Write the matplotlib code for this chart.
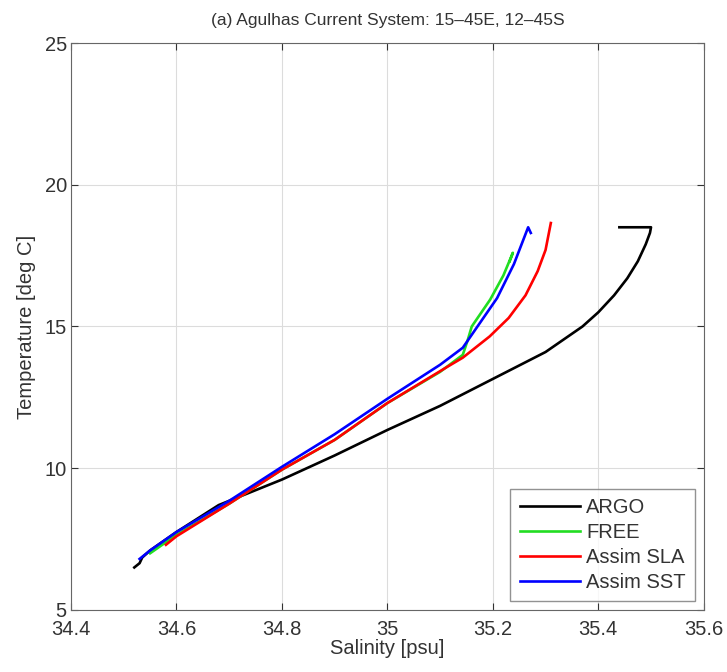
import numpy as np
import matplotlib
matplotlib.use("Agg")
import matplotlib.pyplot as plt

# salinity [psu], temperature [deg C]
argo_s = [35.44, 35.50, 35.498, 35.49, 35.475, 35.455, 35.43, 35.40, 35.37, 35.30, 35.20, 35.10, 35.00,
          34.90, 34.853, 34.80, 34.72, 34.68, 34.60, 34.55, 34.535, 34.53, 34.52]
argo_t = [18.5, 18.5, 18.3, 17.9, 17.3, 16.7, 16.1, 15.5, 15.0, 14.1, 13.15, 12.2, 11.35,
          10.45, 10.05, 9.6, 9.0, 8.7, 7.75, 7.1, 6.85, 6.65, 6.5]

free_s = [35.232, 35.238, 35.22, 35.195, 35.16, 35.152, 35.143, 35.10, 35.00, 34.90, 34.80, 34.70, 34.60, 34.55]
free_t = [17.3, 17.6, 16.8, 15.95, 15.0, 14.5, 14.0, 13.4, 12.3, 11.0, 9.95, 8.75, 7.65, 7.0]

sla_s = [35.31, 35.30, 35.285, 35.262, 35.23, 35.194, 35.143, 35.113, 35.00, 34.90, 34.80, 34.70, 34.60, 34.58]
sla_t = [18.65, 17.7, 16.95, 16.1, 15.3, 14.65, 13.9, 13.57, 12.3, 11.0, 9.95, 8.75, 7.6, 7.3]

sst_s = [35.272, 35.267, 35.24, 35.208, 35.143, 35.10, 35.00, 34.90, 34.80, 34.70, 34.60, 34.55, 34.53]
sst_t = [18.3, 18.5, 17.2, 16.0, 14.25, 13.65, 12.45, 11.2, 10.05, 8.85, 7.75, 7.1, 6.8]

xticks = [34.4, 34.6, 34.8, 35, 35.2, 35.4, 35.6]
xlabels = ['34.4', '34.6', '34.8', '35', '35.2', '35.4', '35.6']
yticks = [5, 10, 15, 20, 25]

plt.rcParams['font.family'] = ['Liberation Sans', 'DejaVu Sans']
txt = '#333333'

fig = plt.figure(figsize=(7.27, 6.72), dpi=100)
ax = fig.add_axes([0.0977, 0.0923, 0.8703, 0.8437])

ax.plot(argo_s, argo_t, color='black', lw=1.9, label='ARGO')
ax.plot(free_s, free_t, color='#22dd22', lw=1.9, label='FREE')
ax.plot(sla_s, sla_t, color='#ff0000', lw=1.9, label='Assim SLA')
ax.plot(sst_s, sst_t, color='#0000ff', lw=1.9, label='Assim SST')

ax.set_xlim(34.4, 35.6)
ax.set_ylim(5, 25)
ax.set_xticks(xticks)
ax.set_xticklabels(xlabels)
ax.set_yticks(yticks)
ax.grid(True, color='#dcdcdc', lw=0.8)
ax.tick_params(direction='in', top=True, right=True, labelsize=14.5, colors=txt, length=5)
ax.tick_params(axis='x', pad=7)
ax.tick_params(axis='y', pad=3)
for sp in ax.spines.values():
    sp.set_color('#666666')
    sp.set_linewidth(0.8)

ax.set_xlabel('Salinity [psu]', fontsize=14.5, color=txt, labelpad=0)
ax.set_ylabel('Temperature [deg C]', fontsize=14.5, color=txt, labelpad=6)
ax.set_title('(a) Agulhas Current System: 15\u201345E, 12\u201345S', fontsize=12.5, color=txt, pad=13)

leg = ax.legend(loc='lower right', fontsize=14.5, handlelength=3.0, handletextpad=0.3, frameon=True,
                fancybox=False, edgecolor='#777777', borderaxespad=0.45, labelspacing=0.3,
                borderpad=0.45)
for t in leg.get_texts():
    t.set_color(txt)

fig.savefig('out.png', dpi=100)
